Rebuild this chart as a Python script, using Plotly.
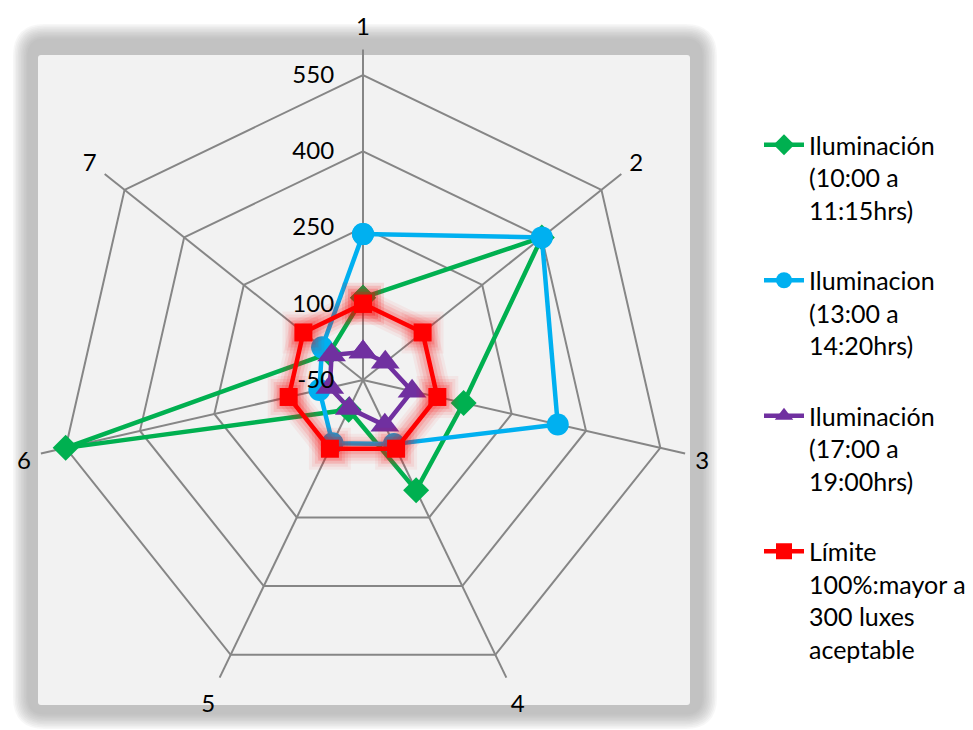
import plotly.graph_objects as go

# Radar chart: illuminance readings per measuring point (1-7)
categories = ["1", "2", "3", "4", "5", "6", "7"]
ilum_manana = [112, 400, 153, 191, 15, 550, 35]      # 10:00 a 11:15hrs
ilum_mediodia = [237, 400, 343, 90, 88, 38, 53]      # 13:00 a 14:20hrs
ilum_tarde = [5, 6, 49, 49, 12, 17, 29]              # 17:00 a 19:00hrs
limite = [100, 100, 100, 100, 100, 100, 100]         # reference limit

series_names = [
    "Iluminación<br>(10:00 a<br>11:15hrs)",
    "Iluminacion<br>(13:00 a<br>14:20hrs)",
    "Iluminación<br>(17:00 a<br>19:00hrs)",
    "Límite<br>100%:mayor a<br>300 luxes<br>aceptable",
]

radial_ticks = [-50, 100, 250, 400, 550]
radial_ticktext = ["-50", "100", "250", "400", "550"]
radial_range = [-50, 600]

W, H = 973, 730
FONT = "Lato"


def closed(vals):
    return list(vals) + [vals[0]]


theta = closed(categories)

fig = go.Figure()


def add_series(vals, name, color, symbol, size, group):
    fig.add_trace(go.Scatterpolar(
        r=closed(vals), theta=theta, name=name, mode="lines+markers",
        line=dict(color=color, width=4.5),
        marker=dict(color=color, symbol=symbol, size=size, line=dict(width=0)),
        legendgroup=group, cliponaxis=True,
    ))


add_series(ilum_manana, series_names[0], "#00B050", "diamond", 20, "g1")
add_series(ilum_mediodia, series_names[1], "#00B0F0", "circle", 22, "g2")
add_series(ilum_tarde, series_names[2], "#7030A0", "triangle-up", 25, "g3")

# soft red glow beneath the limit line
for w, ms, a in [(30, 42, 0.05), (24, 36, 0.07), (18, 30, 0.10), (11, 24, 0.13)]:
    fig.add_trace(go.Scatterpolar(
        r=closed(limite), theta=theta, mode="lines+markers",
        line=dict(color=f"rgba(255,0,0,{a})", width=w),
        marker=dict(color=f"rgba(255,0,0,{a})", symbol="square", size=ms, line=dict(width=0)),
        showlegend=False, hoverinfo="skip", cliponaxis=True,
    ))

add_series(limite, series_names[3], "#FF0000", "square", 18, "g4")


def px(x, y):
    return x / W, 1 - y / H


def rounded_rect(x0, y0, x1, y1, rad):
    def P(x, y):
        a, b = px(x, y)
        return f"{a:.5f},{b:.5f}"
    return (f"M {P(x0 + rad, y0)} L {P(x1 - rad, y0)} Q {P(x1, y0)} {P(x1, y0 + rad)} "
            f"L {P(x1, y1 - rad)} Q {P(x1, y1)} {P(x1 - rad, y1)} "
            f"L {P(x0 + rad, y1)} Q {P(x0, y1)} {P(x0, y1 - rad)} "
            f"L {P(x0, y0 + rad)} Q {P(x0, y0)} {P(x0 + rad, y0)} Z")


shapes = []
# blurred gray frame around the plot panel
for i in range(10):
    e = 10 - i * 1.6
    shapes.append(dict(
        type="path", xref="paper", yref="paper", layer="below",
        path=rounded_rect(23 - e, 34 - e, 707 + e, 719 + e, 22 + e),
        fillcolor="rgba(150,150,150,0.075)", line=dict(width=0),
    ))
shapes.append(dict(
    type="path", xref="paper", yref="paper", layer="below",
    path=rounded_rect(38, 55, 690, 705, 3),
    fillcolor="#F2F2F2", line=dict(width=0),
))

cx, cy, R = 363, 380, 330.4
fig.update_layout(
    width=W, height=H, autosize=False,
    margin=dict(l=0, r=0, t=0, b=0),
    paper_bgcolor="white",
    font=dict(family=FONT, size=24, color="black"),
    shapes=shapes,
    polar=dict(
        domain=dict(x=[(cx - R) / W, (cx + R) / W], y=[(H - cy - R) / H, (H - cy + R) / H]),
        bgcolor="rgba(0,0,0,0)",
        gridshape="linear",
        radialaxis=dict(
            range=radial_range, tickmode="array", tickvals=radial_ticks, ticktext=radial_ticktext,
            angle=90, tickangle=90, side="counterclockwise", showline=False,
            ticks="outside", ticklen=20, tickcolor="rgba(0,0,0,0)",
            gridcolor="#868686", gridwidth=1.5,
            tickfont=dict(family=FONT, size=24, color="black"),
        ),
        angularaxis=dict(
            type="category", categoryarray=categories,
            direction="clockwise", rotation=90,
            showline=False, ticks="outside", ticklen=5, tickcolor="rgba(0,0,0,0)",
            gridcolor="#868686", gridwidth=1.5,
            tickfont=dict(family=FONT, size=24, color="black"),
        ),
    ),
    legend=dict(
        x=759 / W, y=1 - 122 / H, xanchor="left", yanchor="top",
        valign="top", tracegroupgap=35, bgcolor="rgba(0,0,0,0)",
        font=dict(family=FONT, size=25, color="black"),
        itemwidth=40,
    ),
)

fig.write_html("out.html")
